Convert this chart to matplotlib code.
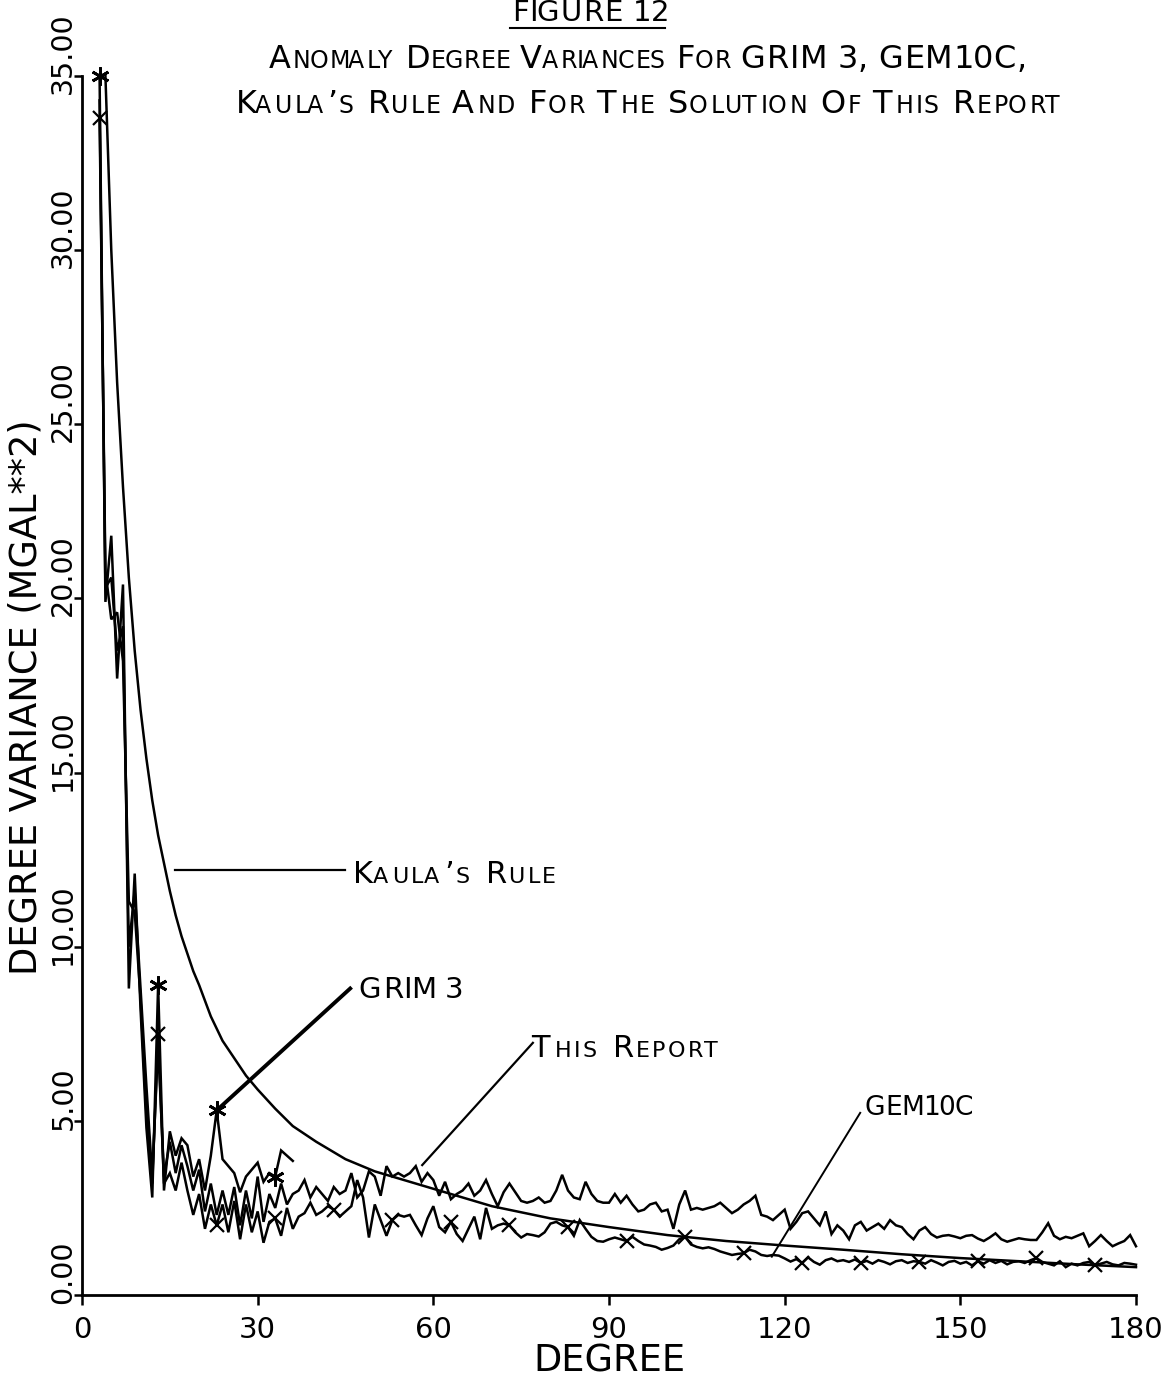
import matplotlib
matplotlib.use('Agg')
import matplotlib.pyplot as plt
from matplotlib.font_manager import FontProperties, findfont
from matplotlib.ft2font import FT2Font
from matplotlib.lines import Line2D

FONT = 'DejaVu Sans'
W, H = 1170, 1378

# Anomaly degree variances (mgal**2) by degree n
grim3_values = [
    35.0, 19.9, 21.8, 17.7, 20.4, 8.8, 12.1, 8.2, 4.8, 2.8,      # n = 3..12
    8.9, 3.0, 4.7, 4.0, 4.5, 4.3, 3.4, 3.9, 3.0, 4.0,            # 13..22
    5.3, 3.9, 3.7, 3.5, 2.95, 3.4, 3.6, 3.8, 3.25, 3.5,          # 23..32
    3.4, 4.15, 4.0, 3.85,                                        # 33..36
]

gem10c_values = [
    33.8, 20.8, 19.4, 19.6, 18.2, 11.3, 11.0, 8.5, 5.2, 3.2,     # n = 3..12
    7.5, 3.2, 3.5, 3.0, 3.8, 3.0, 2.3, 2.9, 1.9, 2.6,
    2.0, 2.6, 1.8, 2.7, 1.6, 2.6, 1.8, 2.4, 1.5, 2.1,
    2.2, 1.7, 2.5, 1.9, 2.25, 2.35, 2.65, 2.3, 2.4, 2.55,
    2.45, 2.25, 2.4, 2.55, 3.3, 2.8, 1.65, 2.6, 2.15, 1.7,
    2.15, 2.3, 2.25, 2.3, 2.0, 1.72, 2.2, 2.55, 1.95, 1.8,
    2.1, 1.75, 1.55, 1.9, 2.25, 1.6, 2.5, 1.9, 2.0, 2.05,
    2.0, 1.8, 1.65, 1.75, 1.72, 1.68, 1.8, 2.05, 2.1, 2.0,
    1.95, 1.7, 2.15, 1.9, 1.67, 1.55, 1.53, 1.6, 1.65, 1.6,
    1.55, 1.67, 1.55, 1.45, 1.42, 1.38, 1.3, 1.35, 1.42, 1.6,
    1.67, 1.45, 1.38, 1.34, 1.37, 1.32, 1.25, 1.2, 1.15, 1.18,
    1.2, 1.3, 1.25, 1.15, 1.12, 1.15, 1.13, 1.05, 0.96, 1.03,
    0.92, 1.08, 0.95, 0.87, 1.0, 1.05, 0.97, 1.0, 0.95, 1.02,
    0.92, 0.98, 0.9, 1.0, 0.95, 0.88, 0.97, 1.0, 0.92, 0.97,
    0.95, 0.9, 1.0, 0.93, 0.85, 0.95, 0.98, 0.9, 0.95, 0.85,
    0.97, 0.9, 1.0, 0.92, 0.98, 0.88, 0.95, 0.97, 0.92, 1.0,
    1.06, 0.95, 0.9, 0.85, 0.97, 0.8, 0.9, 0.85, 0.92, 0.95,
    0.86, 0.9, 0.95, 0.88, 0.85, 0.92, 0.9, 0.87,                # 173..180
]

report_values = [
    34.3, 20.3, 20.6, 18.5, 19.2, 10.0, 11.6, 8.8, 6.0, 3.4,     # n = 3..12
    7.2, 3.4, 4.4, 3.5, 4.3, 3.7, 3.0, 3.6, 2.4, 3.2,
    2.3, 3.0, 2.3, 3.1, 2.0, 3.0, 2.2, 3.4, 2.1, 2.9,
    2.5, 3.2, 2.6, 2.9, 3.0, 3.3, 2.8, 3.1, 2.9, 2.7,
    3.1, 2.9, 3.0, 3.5, 2.8, 3.0, 3.55, 3.4, 2.85, 3.7,
    3.4, 3.5, 3.4, 3.5, 3.7, 3.25, 3.5, 3.3, 2.85, 3.25,
    2.75, 2.9, 3.0, 3.2, 2.85, 3.0, 3.3, 2.9, 2.55, 2.95,
    3.2, 2.95, 2.7, 2.65, 2.7, 2.8, 2.65, 2.7, 3.0, 3.45,
    3.0, 2.8, 2.75, 3.25, 2.9, 2.7, 2.65, 2.65, 2.9, 2.65,
    2.85, 2.6, 2.4, 2.45, 2.6, 2.65, 2.4, 2.45, 1.9, 2.6,
    3.0, 2.45, 2.5, 2.45, 2.5, 2.55, 2.65, 2.5, 2.35, 2.45,
    2.6, 2.7, 2.85, 2.3, 2.25, 2.15, 2.3, 2.45, 1.9, 2.1,
    2.35, 2.4, 2.2, 2.0, 2.4, 1.75, 2.0, 1.85, 1.6, 2.0,
    2.1, 1.85, 1.95, 2.05, 1.9, 2.15, 2.0, 1.95, 1.75, 1.6,
    1.85, 1.95, 1.75, 1.65, 1.7, 1.72, 1.68, 1.63, 1.7, 1.72,
    1.62, 1.55, 1.65, 1.77, 1.6, 1.53, 1.58, 1.63, 1.6, 1.58,
    1.58, 1.8, 2.06, 1.7, 1.6, 1.67, 1.63, 1.7, 1.77, 1.4,
    1.55, 1.72, 1.55, 1.4, 1.48, 1.55, 1.72, 1.4,                # 173..180
]

kaula_deg = [4, 5, 6, 7, 8, 9, 10, 11, 12, 13, 14, 15, 16, 17, 18, 19, 20,
             22, 24, 26, 28, 30, 33, 36, 40, 45, 50, 55, 60, 65, 70,
             80, 90, 100, 110, 120, 130, 140, 150, 160, 170, 180]
kaula_values = [35.0, 30.0, 26.2, 23.2, 20.6, 18.5, 16.8, 15.4, 14.2, 13.2,
                12.4, 11.6, 10.9, 10.3, 9.8, 9.3, 8.9,
                8.0, 7.3, 6.8, 6.3, 5.9, 5.35, 4.85, 4.4, 3.9, 3.55, 3.3,
                3.05, 2.8, 2.55, 2.2, 1.95, 1.72, 1.55, 1.42, 1.3, 1.17,
                1.06, 0.97, 0.88, 0.8]

grim3_deg = list(range(3, 3 + len(grim3_values)))
gem10c_deg = list(range(3, 3 + len(gem10c_values)))
report_deg = list(range(3, 3 + len(report_values)))
assert len(gem10c_values) == 178 and len(report_values) == 178

x_ticks = [0, 30, 60, 90, 120, 150, 180]
y_ticks = [0, 5, 10, 15, 20, 25, 30, 35]

FONT_PATH = findfont(FontProperties(family=FONT))


def plotter_text(fig, x, y, text, big, small=None, track=0.0, ha='left'):
    """Write text glyph by glyph at display pixel (x, y) on the baseline.
    Lower-case letters are set as small capitals of size `small`."""
    small = small or big
    font = FT2Font(FONT_PATH)
    pieces = []
    pen = 0.0
    for ch in text:
        size = small if ch.islower() else big
        c = ch.upper()
        font.set_size(size, fig.dpi)
        g = font.load_char(ord(c))
        pieces.append((pen + g.horiBearingX / 64.0, c, size))
        pen += g.linearHoriAdvance / 65536.0 + track
    width = pen - track
    x0 = x - width / 2 if ha == 'center' else x
    for off, c, size in pieces:
        if c.strip():
            fig.text((x0 + off) / W, y / H, c, fontsize=size, family=FONT,
                     ha='left', va='baseline')


fig = plt.figure(figsize=(W / 100, H / 100), dpi=100)
ax = fig.add_axes([82 / W, 1 - 1295 / H, 1054 / W, 1219 / H])
ax.set_xlim(0, 180)
ax.set_ylim(0, 35)

for side in ('top', 'right'):
    ax.spines[side].set_visible(False)
for side in ('left', 'bottom'):
    ax.spines[side].set_linewidth(2.0)

line_kw = dict(color='black', lw=1.8, clip_on=False, solid_joinstyle='miter')
ax.plot(kaula_deg, kaula_values, **line_kw)
ax.plot(report_deg, report_values, **line_kw)
ax.plot(gem10c_deg, gem10c_values, marker='x', markevery=10, ms=10, mew=1.6, **line_kw)
ax.plot(grim3_deg, grim3_values, marker=(6, 2, 0), markevery=10, ms=13, mew=2.0, **line_kw)

# axes ticks
ax.set_xticks(x_ticks)
ax.set_xticklabels([str(t) for t in x_ticks], fontsize=21, family=FONT)
ax.tick_params(axis='x', direction='out', length=7, width=1.8, pad=8)
ax.set_yticks(y_ticks)
ax.set_yticklabels([])
ax.tick_params(axis='y', direction='out', length=6, width=1.8)
for v in y_ticks:
    ax.annotate(f'{v:.2f}', xy=(0, v), xycoords=('axes fraction', 'data'),
                xytext=(-13.5, 16.5), textcoords='offset points',
                rotation=90, ha='center', va='center', fontsize=20.5, family=FONT)

fig.text(609 / W, 1 - 1372 / H, 'DEGREE', fontsize=26.5, family=FONT,
         ha='center', va='baseline')
fig.text(26 / W, 1 - 697 / H, 'DEGREE VARIANCE (MGAL**2)', fontsize=26.5,
         family=FONT, rotation=90, ha='center', va='center')

# heading
plotter_text(fig, 588, H - 21, 'FIGURE 12', 21, track=0.5, ha='center')
fig.add_artist(Line2D([510 / W, 665 / W], [1 - 28 / H, 1 - 28 / H],
                      color='black', lw=1.5))
plotter_text(fig, 646, H - 68, 'Anomaly Degree Variances For GRIM 3, GEM10C,',
             23, 17, track=0.3, ha='center')
plotter_text(fig, 646, H - 113, 'Kaula’s Rule And For The Solution Of This Report',
             23, 17, track=1.7, ha='center')

# curve labels with leader lines (degree, variance)
leaders = [
    ((15.9, 12.2), (44.9, 12.2), 1.6),
    ((23.0, 5.3), (45.8, 8.8), 2.8),
    ((58.1, 3.73), (77.0, 7.24), 1.6),
    ((117.8, 1.10), (132.9, 5.23), 1.4),
]
for (x1, y1), (x2, y2), lw in leaders:
    ax.plot([x1, x2], [y1, y2], color='black', lw=lw, clip_on=False)

labels = [
    ((45.8, 11.83), 'Kaula’s Rule', 22, 16, 2.5),
    ((47.0, 8.53), 'GRIM 3', 21, 21, 0.0),
    ((76.8, 6.83), 'This Report', 22, 16, 2.5),
    ((133.4, 5.17), 'GEM10C', 19, 19, -0.8),
]
for (dx, dy), txt, big, small, track in labels:
    px, py = ax.transData.transform((dx, dy))
    plotter_text(fig, px, py, txt, big, small, track=track)

fig.savefig('out.png', dpi=100, facecolor='white')
